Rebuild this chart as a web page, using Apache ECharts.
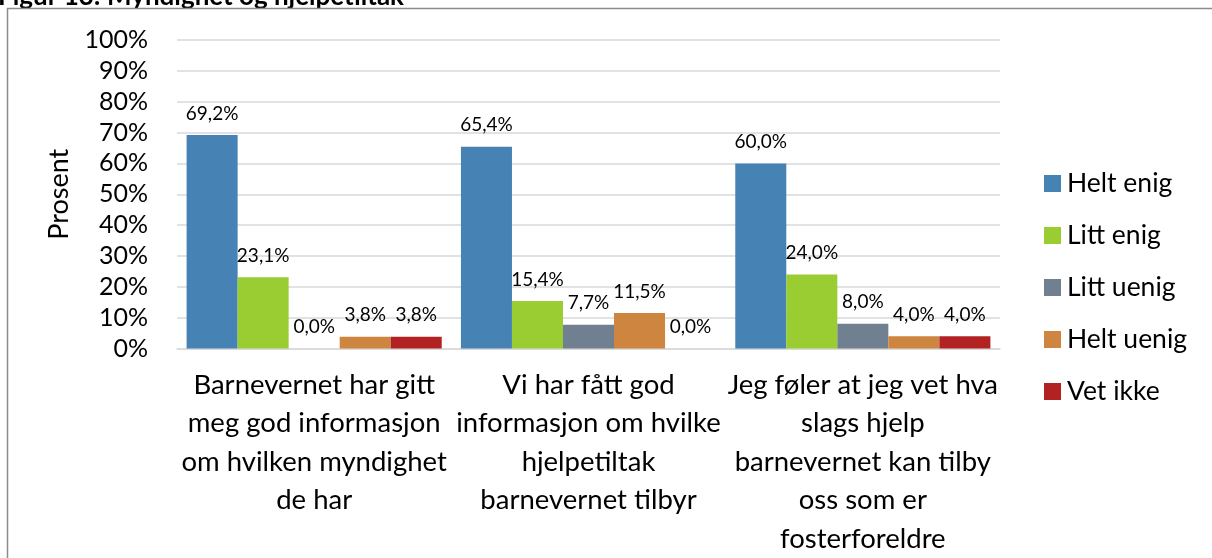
<!DOCTYPE html>
<html>
<head>
<meta charset="utf-8">
<script src="https://cdn.jsdelivr.net/npm/echarts@6/dist/echarts.min.js"></script>
<style>
  html, body { margin: 0; padding: 0; background: #fff; }
  #chart { width: 1212px; height: 558px; }
</style>
</head>
<body>
<div id="chart"></div>
<script>
const categories = [
  "Barnevernet har gitt\nmeg god informasjon\nom hvilken myndighet\nde har",
  "Vi har fått god\ninformasjon om hvilke\nhjelpetiltak\nbarnevernet tilbyr",
  "Jeg føler at jeg vet hva\nslags hjelp\nbarnevernet kan tilby\noss som er\nfosterforeldre"
];
const seriesNames = ["Helt enig", "Litt enig", "Litt uenig", "Helt uenig", "Vet ikke"];
const heltEnig = [69.2, 65.4, 60.0];
const littEnig = [23.1, 15.4, 24.0];
const littUenig = [0.0, 7.7, 8.0];
const heltUenig = [3.8, 11.5, 4.0];
const vetIkke = [3.8, 0.0, 4.0];
const colors = ["#4682B4", "#9ACD32", "#708090", "#CD853F", "#B22222"];
const yTicks = [0, 10, 20, 30, 40, 50, 60, 70, 80, 90, 100];

const FONT = "Lato";
const allValues = [heltEnig, littEnig, littUenig, heltUenig, vetIkke];

const chart = echarts.init(document.getElementById('chart'), null, { renderer: 'canvas' });
chart.setOption({
  animation: false,
  textStyle: { fontFamily: FONT, color: '#000' },
  graphic: [
    {
      type: 'text',
      left: -2, top: -16,
      z: -2,
      style: { text: 'Figur 13: Myndighet og hjelpetiltak', font: 'bold 26px ' + FONT, fill: '#000' },
      silent: true
    },
    {
      type: 'rect',
      z: -1,
      shape: { x: 7.5, y: 8.5, width: 1400, height: 800 },
      style: { fill: '#fff', stroke: '#8c8c8c', lineWidth: 1.5 },
      silent: true
    }
  ],
  grid: { left: 177, right: 212, top: 40, bottom: 207, containLabel: false },
  legend: {
    orient: 'vertical',
    left: 1039,
    top: 165,
    itemWidth: 17,
    itemHeight: 17,
    itemGap: 25,
    icon: 'rect',
    data: seriesNames,
    textStyle: { fontFamily: FONT, fontSize: 26.5, lineHeight: 26, color: '#000', padding: [0, 0, 0, 1] }
  },
  xAxis: {
    type: 'category',
    data: categories,
    axisLine: { lineStyle: { color: '#d9d9d9', width: 1.5 } },
    axisTick: { show: false },
    axisLabel: { interval: 0, fontFamily: FONT, fontSize: 27.5, lineHeight: 38.5, color: '#000', margin: 17 }
  },
  yAxis: {
    type: 'value',
    min: 0, max: 100, interval: 10,
    name: 'Prosent',
    nameLocation: 'middle',
    nameGap: 104,
    nameRotate: 90,
    nameTextStyle: { fontFamily: FONT, fontSize: 27, color: '#000' },
    axisLine: { show: false },
    axisTick: { show: false },
    splitLine: { lineStyle: { color: '#d9d9d9', width: 1.5 } },
    axisLabel: {
      fontFamily: FONT, fontSize: 25, color: '#000', margin: 29,
      formatter: function (v) { return yTicks.indexOf(v) >= 0 ? v + '%' : ''; }
    }
  },
  series: seriesNames.map(function (name, i) {
    return {
      name: name,
      type: 'bar',
      data: allValues[i],
      barGap: '0%',
      barCategoryGap: '7%',
      itemStyle: { color: colors[i] },
      label: {
        show: true,
        position: 'top',
        distance: 12,
        fontFamily: FONT,
        fontSize: 19,
        color: '#000',
        formatter: function (p) { return p.value.toFixed(1).replace('.', ',') + '%'; }
      }
    };
  })
});
</script>
</body>
</html>
